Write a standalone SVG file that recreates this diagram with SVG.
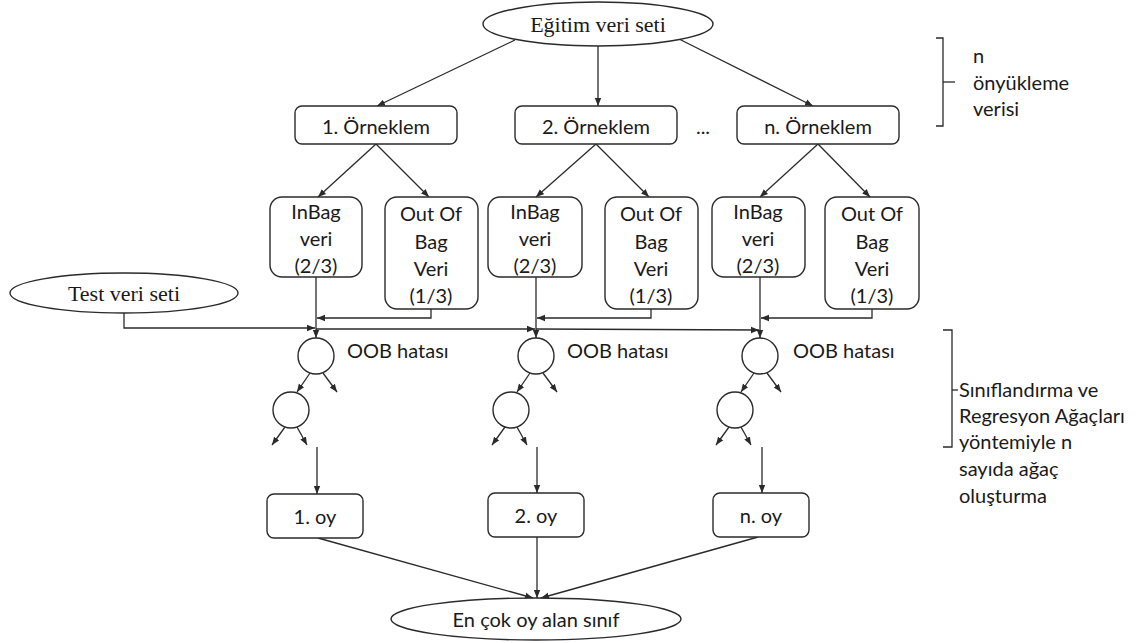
<svg xmlns="http://www.w3.org/2000/svg" width="1143" height="643" viewBox="0 0 1143 643">
  <style>
    .box { fill: #ffffff; stroke: #2a2a2a; stroke-width: 1.4; }
    .ell { fill: #ffffff; stroke: #2a2a2a; stroke-width: 1.4; }
    .circ { fill: #ffffff; stroke: #2a2a2a; stroke-width: 1.4; }
    .ln { fill: none; stroke: #2a2a2a; stroke-width: 1.3; }
    .serif { font-family: "Liberation Serif", "Times New Roman", serif; font-size: 22px; fill: #1a1a1a; }
    .sans { font-family: Lato, "Open Sans", "Liberation Sans", sans-serif; font-size: 20px; fill: #1a1a1a; }
    .c { text-anchor: middle; dominant-baseline: central; }
    .l { text-anchor: start; dominant-baseline: central; }
  </style>
  <defs>
    <marker id="arr" viewBox="0 0 10 10" refX="10" refY="5" markerWidth="8" markerHeight="8" markerUnits="userSpaceOnUse" orient="auto">
      <path d="M0,1 L10,5 L0,9 z" fill="#2a2a2a"/>
    </marker>
  </defs>
  <rect width="1143" height="643" fill="#ffffff"/>

  <g id="connectors">
    <line class="ln" x1="515" y1="40" x2="377" y2="106" marker-end="url(#arr)"/>
    <line class="ln" x1="598" y1="46" x2="598" y2="106" marker-end="url(#arr)"/>
    <line class="ln" x1="679" y1="39" x2="813" y2="106" marker-end="url(#arr)"/>
    <line class="ln" x1="376" y1="144" x2="318" y2="197" marker-end="url(#arr)"/>
    <line class="ln" x1="376" y1="144" x2="429" y2="197" marker-end="url(#arr)"/>
    <line class="ln" x1="596" y1="144" x2="536" y2="197" marker-end="url(#arr)"/>
    <line class="ln" x1="596" y1="144" x2="649" y2="197" marker-end="url(#arr)"/>
    <line class="ln" x1="818" y1="144" x2="760" y2="197" marker-end="url(#arr)"/>
    <line class="ln" x1="818" y1="144" x2="870" y2="197" marker-end="url(#arr)"/>
    <line class="ln" x1="316" y1="277" x2="316" y2="338" marker-end="url(#arr)"/>
    <line class="ln" x1="536" y1="277" x2="536" y2="338" marker-end="url(#arr)"/>
    <line class="ln" x1="760" y1="277" x2="760" y2="338" marker-end="url(#arr)"/>
    <polyline class="ln" points="431,309 431,318 317,318" marker-end="url(#arr)"/>
    <polyline class="ln" points="651,309 651,318 537,318" marker-end="url(#arr)"/>
    <polyline class="ln" points="872,309 872,318 761,318" marker-end="url(#arr)"/>
    <polyline class="ln" points="124,313 124,328 315,328" marker-end="url(#arr)"/>
    <line class="ln" x1="316" y1="329" x2="535" y2="329" marker-end="url(#arr)"/>
    <line class="ln" x1="536" y1="329" x2="759" y2="330" marker-end="url(#arr)"/>
    <line class="ln" x1="310" y1="373" x2="297" y2="392" marker-end="url(#arr)"/>
    <line class="ln" x1="323" y1="373" x2="337" y2="392" marker-end="url(#arr)"/>
    <line class="ln" x1="285" y1="427" x2="272" y2="445" marker-end="url(#arr)"/>
    <line class="ln" x1="297" y1="427" x2="307" y2="445" marker-end="url(#arr)"/>
    <line class="ln" x1="317" y1="447" x2="317" y2="494" marker-end="url(#arr)"/>
    <line class="ln" x1="530" y1="373" x2="517" y2="392" marker-end="url(#arr)"/>
    <line class="ln" x1="543" y1="373" x2="557" y2="392" marker-end="url(#arr)"/>
    <line class="ln" x1="505" y1="427" x2="492" y2="445" marker-end="url(#arr)"/>
    <line class="ln" x1="517" y1="427" x2="527" y2="445" marker-end="url(#arr)"/>
    <line class="ln" x1="537" y1="447" x2="537" y2="493" marker-end="url(#arr)"/>
    <line class="ln" x1="754" y1="373" x2="741" y2="392" marker-end="url(#arr)"/>
    <line class="ln" x1="767" y1="373" x2="781" y2="392" marker-end="url(#arr)"/>
    <line class="ln" x1="729" y1="427" x2="716" y2="445" marker-end="url(#arr)"/>
    <line class="ln" x1="741" y1="427" x2="751" y2="445" marker-end="url(#arr)"/>
    <line class="ln" x1="762" y1="447" x2="762" y2="493" marker-end="url(#arr)"/>
    <line class="ln" x1="318" y1="538" x2="533" y2="598" marker-end="url(#arr)"/>
    <line class="ln" x1="537" y1="537" x2="537" y2="598" marker-end="url(#arr)"/>
    <line class="ln" x1="758" y1="537" x2="541" y2="598" marker-end="url(#arr)"/>
  </g>

  <g id="egitim">
    <ellipse class="ell" cx="598" cy="24" rx="115" ry="22"/>
    <text class="serif c" x="598" y="24">Eğitim veri seti</text>
  </g>

  <g id="orneklem1">
    <rect class="box" x="295" y="106" width="162" height="38" rx="7"/>
    <text class="sans c" x="376" y="126">1. Örneklem</text>
  </g>
  <g id="orneklem2">
    <rect class="box" x="515" y="106" width="162" height="38" rx="7"/>
    <text class="sans c" x="596" y="126">2. Örneklem</text>
  </g>
  <g id="dots">
    <text class="sans" x="703" y="134" text-anchor="middle" font-size="16">...</text>
  </g>
  <g id="orneklemN">
    <rect class="box" x="737" y="106" width="162" height="38" rx="7"/>
    <text class="sans c" x="818" y="126">n. Örneklem</text>
  </g>

  <g id="bracket-top">
    <polyline class="ln" points="936,38 943,38 943,126 936,126"/>
    <line class="ln" x1="943" y1="82" x2="955" y2="82"/>
    <text class="sans l" x="973" y="55">n</text>
    <text class="sans l" x="973" y="82">önyükleme</text>
    <text class="sans l" x="973" y="108">verisi</text>
  </g>

  <g id="inbag1">
    <rect class="box" x="270" y="197" width="92" height="80" rx="12"/>
    <text class="sans c" x="316" y="211">InBag</text>
    <text class="sans c" x="316" y="238">veri</text>
    <text class="sans c" x="316" y="265">(2/3)</text>
  </g>
  <g id="oob1">
    <rect class="box" x="385" y="197" width="93" height="112" rx="12"/>
    <text class="sans c" x="431" y="213">Out Of</text>
    <text class="sans c" x="431" y="241">Bag</text>
    <text class="sans c" x="431" y="268">Veri</text>
    <text class="sans c" x="431" y="295">(1/3)</text>
  </g>
  <g id="inbag2">
    <rect class="box" x="488" y="197" width="94" height="80" rx="12"/>
    <text class="sans c" x="535" y="211">InBag</text>
    <text class="sans c" x="535" y="238">veri</text>
    <text class="sans c" x="535" y="265">(2/3)</text>
  </g>
  <g id="oob2">
    <rect class="box" x="605" y="197" width="93" height="112" rx="12"/>
    <text class="sans c" x="651" y="213">Out Of</text>
    <text class="sans c" x="651" y="241">Bag</text>
    <text class="sans c" x="651" y="268">Veri</text>
    <text class="sans c" x="651" y="295">(1/3)</text>
  </g>
  <g id="inbag3">
    <rect class="box" x="712" y="197" width="93" height="80" rx="12"/>
    <text class="sans c" x="758" y="211">InBag</text>
    <text class="sans c" x="758" y="238">veri</text>
    <text class="sans c" x="758" y="265">(2/3)</text>
  </g>
  <g id="oob3">
    <rect class="box" x="825" y="197" width="94" height="112" rx="12"/>
    <text class="sans c" x="872" y="213">Out Of</text>
    <text class="sans c" x="872" y="241">Bag</text>
    <text class="sans c" x="872" y="268">Veri</text>
    <text class="sans c" x="872" y="295">(1/3)</text>
  </g>

  <g id="test">
    <ellipse class="ell" cx="124" cy="293" rx="114" ry="20"/>
    <text class="serif c" x="124" y="293">Test veri seti</text>
  </g>

  <g id="tree1">
    <circle class="circ" cx="316" cy="356" r="18"/>
    <circle class="circ" cx="291" cy="410" r="18"/>
    <text class="sans l" x="347" y="350">OOB hatası</text>
  </g>
  <g id="tree2">
    <circle class="circ" cx="536" cy="356" r="18"/>
    <circle class="circ" cx="511" cy="410" r="18"/>
    <text class="sans l" x="567" y="350">OOB hatası</text>
  </g>
  <g id="tree3">
    <circle class="circ" cx="760" cy="356" r="18"/>
    <circle class="circ" cx="735" cy="410" r="18"/>
    <text class="sans l" x="793" y="350">OOB hatası</text>
  </g>

  <g id="bracket-bottom">
    <polyline class="ln" points="943,330 952,330 952,447 943,447"/>
    <line class="ln" x1="952" y1="390" x2="958" y2="390"/>
    <text class="sans l" x="959" y="389">Sınıflandırma ve</text>
    <text class="sans l" x="959" y="415">Regresyon Ağaçları</text>
    <text class="sans l" x="959" y="441">yöntemiyle n</text>
    <text class="sans l" x="959" y="468">sayıda ağaç</text>
    <text class="sans l" x="959" y="495">oluşturma</text>
  </g>

  <g id="oy1">
    <rect class="box" x="267" y="494" width="96" height="44" rx="7"/>
    <text class="sans c" x="315" y="516">1. oy</text>
  </g>
  <g id="oy2">
    <rect class="box" x="488" y="493" width="96" height="44" rx="7"/>
    <text class="sans c" x="536" y="515">2. oy</text>
  </g>
  <g id="oyN">
    <rect class="box" x="713" y="493" width="96" height="44" rx="7"/>
    <text class="sans c" x="761" y="515">n. oy</text>
  </g>

  <g id="sonuc">
    <ellipse class="ell" cx="536" cy="619" rx="145" ry="21"/>
    <text class="sans c" x="536" y="619">En çok oy alan sınıf</text>
  </g>
</svg>
